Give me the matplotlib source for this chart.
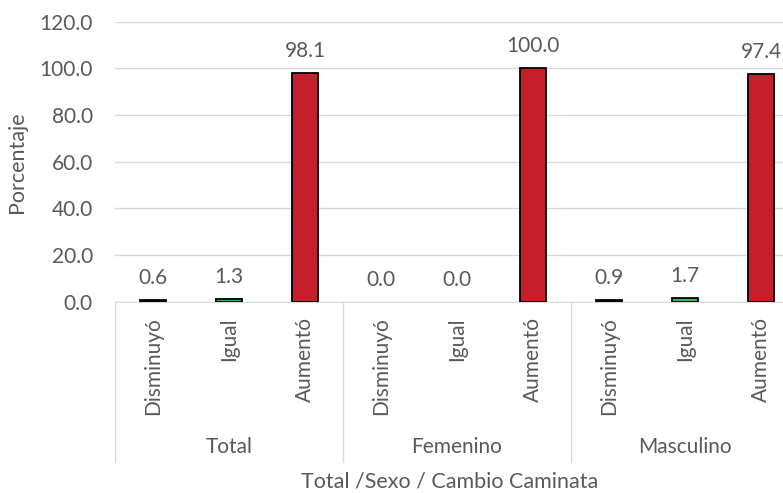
import matplotlib
matplotlib.use("Agg")
import matplotlib.pyplot as plt
from matplotlib.transforms import blended_transform_factory

groups = ["Total", "Femenino", "Masculino"]
categories = ["Disminuyó", "Igual", "Aumentó"]
values = [
    [0.6, 1.3, 98.1],
    [0.0, 0.0, 100.0],
    [0.9, 1.7, 97.4],
]
colors = ["#262626", "#3cb366", "#c41f2b"]
yticks = [0, 20, 40, 60, 80, 100, 120]

plt.rcParams['font.family'] = ['Lato', 'DejaVu Sans']
txt = "#595959"
W, H = 783, 493
fig = plt.figure(figsize=(W / 100, H / 100), dpi=100)
L, R, T, B = 115, 799, 21.7, 301.7
ax = fig.add_axes([L / W, 1 - B / H, (R - L) / W, (B - T) / H])

fs = 15
ax.set_ylim(0, 120)
ax.set_xlim(-0.5, len(groups) * len(categories) - 0.5)
ax.set_yticks(yticks)
ax.set_yticklabels([f"{v:.1f}" for v in yticks], color=txt, fontsize=fs)
ax.tick_params(axis='y', length=0, pad=16)
ax.tick_params(axis='x', length=0, labelbottom=False)
ax.grid(axis='y', color='#d9d9d9', linewidth=1)
ax.set_axisbelow(True)
for s in ['left', 'right', 'top']:
    ax.spines[s].set_visible(False)
ax.spines['bottom'].set_color('#d9d9d9')
ax.set_ylabel("Porcentaje", color=txt, fontsize=15.5, labelpad=9)

trans = blended_transform_factory(ax.transData, fig.transFigure)
def fy(py):
    return 1 - py / H

i = 0
for g, vals in zip(groups, values):
    start = i
    for c, v, col in zip(categories, vals, colors):
        ax.bar(i, v, width=0.33, color=col, edgecolor='black',
               linewidth=1.3 if v > 0 else 0, zorder=3)
        ax.annotate(f"{v:.1f}", (i, v), xytext=(0, 11.5), textcoords='offset points',
                    ha='center', va='baseline', color=txt, fontsize=fs)
        ax.text(i, fy(317), c, rotation=90, ha='center', va='top', color=txt,
                fontsize=fs, transform=trans)
        i += 1
    ax.text((start + i - 1) / 2, fy(447), g, ha='center', va='center', color=txt,
            fontsize=fs, transform=trans)

for xs in [-0.5, 2.5, 5.5, 8.5]:
    ax.plot([xs, xs], [fy(302), fy(462)], color='#d9d9d9', linewidth=1,
            transform=trans, clip_on=False)

fig.text(450 / W, fy(481), "Total /Sexo / Cambio Caminata", ha='center', va='center',
         color=txt, fontsize=15.5)

fig.savefig("out.png", dpi=100)
